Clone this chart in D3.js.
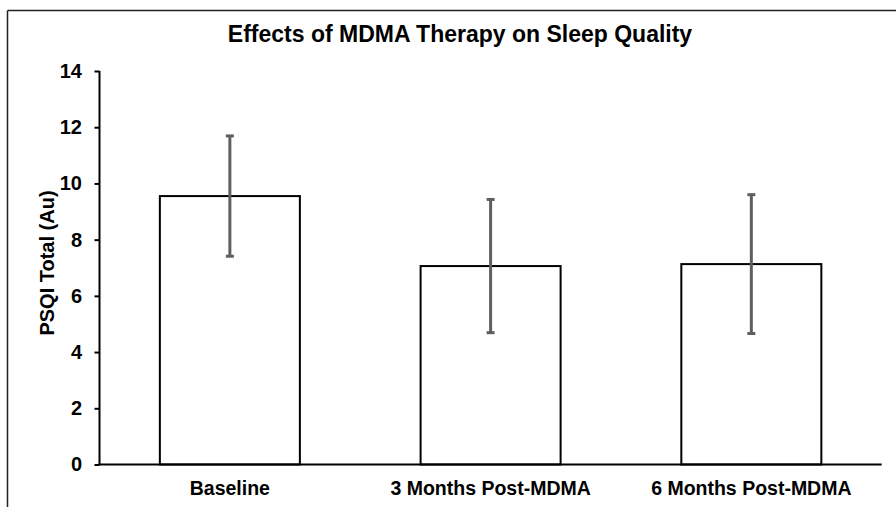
<!DOCTYPE html>
<html>
<head>
<meta charset="utf-8">
<script src="https://cdn.jsdelivr.net/npm/d3@7/dist/d3.min.js"></script>
<style>
  html, body { margin: 0; padding: 0; background: #fff; }
  svg { display: block; font-family: "Liberation Sans", Arial, sans-serif; }
</style>
</head>
<body>
<svg id="chart" width="896" height="507"></svg>
<script>
const categories = ["Baseline", "3 Months Post-MDMA", "6 Months Post-MDMA"];
const means = [9.55, 7.06, 7.13];
const errors = [2.14, 2.37, 2.47];
const yTicks = [0, 2, 4, 6, 8, 10, 12, 14];
const title = "Effects of MDMA Therapy on Sleep Quality";
const yLabel = "PSQI Total (Au)";

const svg = d3.select("#chart");
const W = 896, H = 507;

// frame (partially cropped)
svg.append("line").attr("x1", 7.5).attr("x2", 7.5).attr("y1", 10.5).attr("y2", H)
  .attr("stroke", "#222").attr("stroke-width", 1.5);
svg.append("line").attr("x1", 7.5).attr("x2", W).attr("y1", 10.5).attr("y2", 10.5)
  .attr("stroke", "#222").attr("stroke-width", 1.5);

const x = d3.scaleBand().domain(categories).range([99.5, 881.7])
  .paddingInner(0.463).paddingOuter(0.2315);
const y = d3.scaleLinear().domain([0, 14]).range([464.5, 71]);

// bars
svg.selectAll("rect.bar").data(categories).enter().append("rect")
  .attr("class", "bar")
  .attr("x", d => x(d))
  .attr("y", (d, i) => y(means[i]))
  .attr("width", x.bandwidth())
  .attr("height", (d, i) => y(0) - y(means[i]))
  .attr("fill", "#fff").attr("stroke", "#000").attr("stroke-width", 2);

// error bars
const eg = svg.append("g").attr("stroke", "#5f5f5f").attr("stroke-width", 3);
categories.forEach((c, i) => {
  const cx = x(c) + x.bandwidth() / 2;
  const top = y(means[i] + errors[i]), bot = y(means[i] - errors[i]);
  eg.append("line").attr("x1", cx).attr("x2", cx).attr("y1", top).attr("y2", bot);
  eg.append("line").attr("x1", cx - 4).attr("x2", cx + 4).attr("y1", top).attr("y2", top);
  eg.append("line").attr("x1", cx - 4).attr("x2", cx + 4).attr("y1", bot).attr("y2", bot);
});

// y axis
const yAxis = svg.append("g").attr("transform", "translate(99.5,0)")
  .call(d3.axisLeft(y).tickValues(yTicks).tickSize(5).tickPadding(12.5).tickFormat(d3.format("d")));
yAxis.select(".domain").attr("stroke", "#000").attr("stroke-width", 2)
  .attr("d", `M0,${y(14)}V${y(0)}`);
yAxis.selectAll(".tick line").attr("stroke", "#000").attr("stroke-width", 2);
yAxis.selectAll(".tick text").attr("fill", "#000")
  .style("font-size", "20px").style("font-weight", "bold")
  .style("font-family", "'Liberation Sans', Arial, sans-serif");

// x axis
const xAxis = svg.append("g").attr("transform", `translate(0,${y(0)})`)
  .call(d3.axisBottom(x).tickSize(0).tickPadding(18));
xAxis.select(".domain").attr("stroke", "#000").attr("stroke-width", 2)
  .attr("d", `M98.5,0H881.7`);
xAxis.selectAll(".tick text").attr("fill", "#000").attr("dy", "0")
  .attr("y", 30.5)
  .style("font-size", "19.5px").style("font-weight", "bold")
  .style("font-family", "'Liberation Sans', Arial, sans-serif");

// title
svg.append("text").attr("x", 460).attr("y", 42).attr("text-anchor", "middle")
  .style("font-size", "23px").style("font-weight", "bold").attr("fill", "#000")
  .text(title);

// y label
svg.append("text").attr("transform", `translate(54,263) rotate(-90)`)
  .attr("text-anchor", "middle")
  .style("font-size", "20px").style("font-weight", "bold").attr("fill", "#000")
  .text(yLabel);
</script>
</body>
</html>
